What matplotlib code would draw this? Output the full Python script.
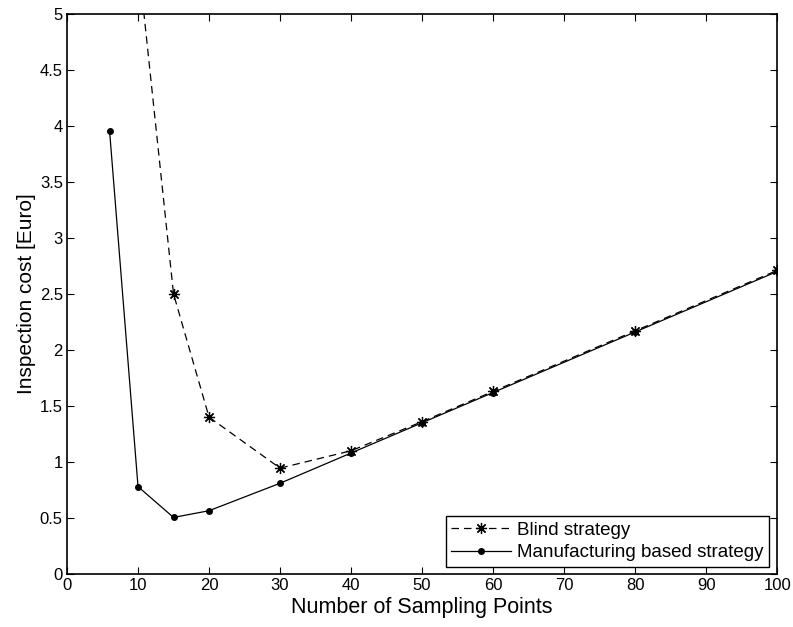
import matplotlib.pyplot as plt

plt.rcParams['font.family'] = ['Liberation Sans', 'DejaVu Sans']

# Data
blind_x = [10, 15, 20, 30, 40, 50, 60, 80, 100]
blind_y = [5.5, 2.5, 1.40, 0.945, 1.10, 1.36, 1.63, 2.17, 2.71]
manuf_x = [6, 10, 15, 20, 30, 40, 50, 60, 80, 100]
manuf_y = [3.95, 0.78, 0.505, 0.565, 0.81, 1.08, 1.35, 1.62, 2.16, 2.70]

fig = plt.figure(figsize=(7.93, 6.27), dpi=100)
ax = fig.add_axes([0.0845, 0.0845, 0.8955, 0.8935])

ax.plot(blind_x, blind_y, color='black', linestyle=(0, (6, 4)), linewidth=0.9,
        marker=(8, 2, 0), markersize=8, markeredgewidth=0.9, label='Blind strategy')
ax.plot(manuf_x, manuf_y, color='black', linestyle='-', linewidth=0.9,
        marker='o', markersize=4, label='Manufacturing based strategy')

ax.set_xlim(0, 100)
ax.set_ylim(0, 5)
ax.set_xticks(range(0, 101, 10))
ax.set_yticks([0, 0.5, 1, 1.5, 2, 2.5, 3, 3.5, 4, 4.5, 5])
ax.set_yticklabels(['0', '0.5', '1', '1.5', '2', '2.5', '3', '3.5', '4', '4.5', '5'])
ax.tick_params(direction='in', top=True, right=True, labelsize=12, length=5, pad=3)
for s in ax.spines.values():
    s.set_linewidth(1.2)

ax.set_xlabel('Number of Sampling Points', fontsize=15.5, labelpad=3)
ax.set_ylabel('Inspection cost [Euro]', fontsize=15, labelpad=3)

leg = ax.legend(loc='lower right', bbox_to_anchor=(0.9885, 0.0125), fontsize=13.5,
                frameon=True, fancybox=False, edgecolor='black', framealpha=1,
                borderpad=0.3, labelspacing=0.3, handlelength=3.2, handletextpad=0.3,
                borderaxespad=0)
leg.get_frame().set_linewidth(1.0)

fig.savefig('out.png', dpi=100)
